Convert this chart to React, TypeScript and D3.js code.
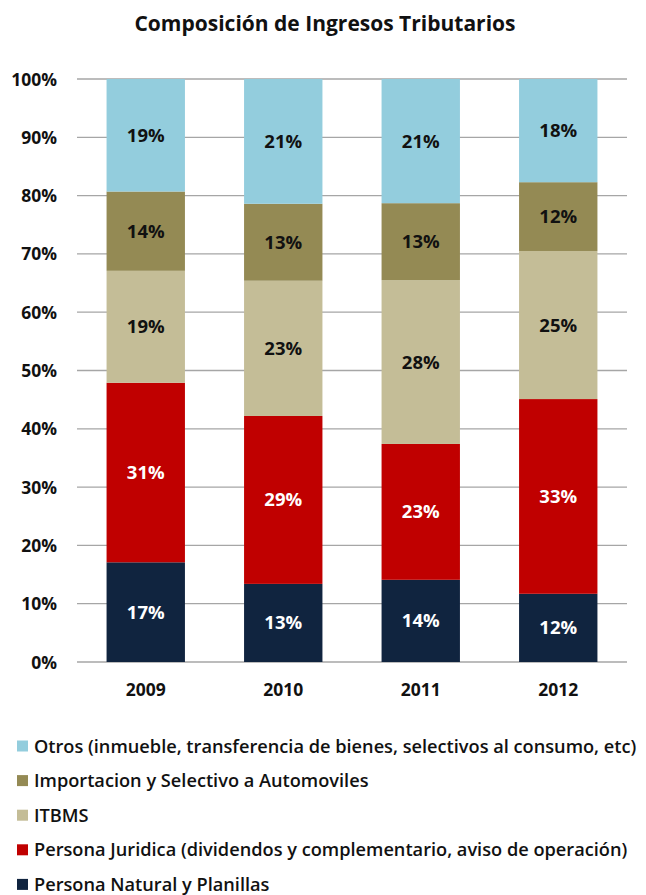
import React from "react";
import * as d3 from "d3";

const years = ["2009", "2010", "2011", "2012"];
const seriesNames = [
  "Persona Natural y Planillas",
  "Persona Juridica (dividendos y complementario, aviso de operación)",
  "ITBMS",
  "Importacion y Selectivo a Automoviles",
  "Otros (inmueble, transferencia de bienes, selectivos al consumo, etc)",
];
const personaNatural = [17.1, 13.4, 14.1, 11.7];
const personaJuridica = [30.8, 28.8, 23.3, 33.4];
const itbms = [19.2, 23.2, 28.1, 25.4];
const importacion = [13.6, 13.2, 13.2, 11.8];
const otros = [19.3, 21.4, 21.3, 17.7];
const colors = ["#10243F", "#C00000", "#C4BD97", "#948A54", "#93CDDD"];
const labelColors = ["#FFFFFF", "#FFFFFF", "#111111", "#111111", "#111111"];
const yTicks = [0, 10, 20, 30, 40, 50, 60, 70, 80, 90, 100];

const FONT = "'Open Sans', 'Liberation Sans', sans-serif";

export default function App() {
  const W = 646, H = 895;
  const x0 = 77, x1 = 627, yTop = 79, yBot = 662;
  const seriesValues = [personaNatural, personaJuridica, itbms, importacion, otros];
  const rows = years.map((yr, i) => {
    const r: any = { year: yr };
    seriesNames.forEach((s, k) => (r[s] = seriesValues[k][i]));
    return r;
  });
  const stack = d3.stack<any>().keys(seriesNames)(rows);
  const x = d3.scaleBand().domain(years).range([x0, x1]).paddingInner(0.43).paddingOuter(0.215);
  const y = d3.scaleLinear().domain([0, 100]).range([yBot, yTop]);
  const legendOrder = [4, 3, 2, 1, 0];

  return (
    <svg width={W} height={H} style={{ display: "block", position: "absolute", left: 0, top: 0 }} fontFamily={FONT}>
      <rect width={W} height={H} fill="#fff" />
      <text x={325} y={31} textAnchor="middle" fontSize={21} fontWeight={700} fill="#111">
        Composición de Ingresos Tributarios
      </text>
      {yTicks.map((t) => (
        <g key={t}>
          <line x1={x0} x2={x1} y1={y(t)} y2={y(t)} stroke="#A6A6A6" strokeWidth={1.3} />
          <text x={57} y={y(t) + 6.5} textAnchor="end" fontSize={17.5} fontWeight={700} fill="#111">
            {t}%
          </text>
        </g>
      ))}
      {stack.map((layer, k) =>
        layer.map((d, i) => {
          const bx = x(years[i])!;
          const top = y(d[1]);
          const bot = y(d[0]);
          return (
            <g key={k + "-" + i}>
              <rect x={bx} y={top} width={x.bandwidth()} height={bot - top} fill={colors[k]} />
              <text
                x={bx + x.bandwidth() / 2}
                y={(top + bot) / 2 + 6.5}
                textAnchor="middle"
                fontSize={18.5}
                fontWeight={700}
                fill={labelColors[k]}
              >
                {Math.round(d[1] - d[0])}%
              </text>
            </g>
          );
        })
      )}
      {years.map((yr) => (
        <text key={yr} x={x(yr)! + x.bandwidth() / 2} y={696} textAnchor="middle" fontSize={17.5} fontWeight={700} fill="#111">
          {yr}
        </text>
      ))}
      {legendOrder.map((k, j) => {
        const cy = 746 + j * 34.6;
        return (
          <g key={k}>
            <rect x={17} y={cy - 5.5} width={11} height={11} fill={colors[k]} />
            <text x={34} y={cy + 6.5} fontSize={18.2} fontWeight={600} fill="#111">
              {seriesNames[k]}
            </text>
          </g>
        );
      })}
    </svg>
  );
}
